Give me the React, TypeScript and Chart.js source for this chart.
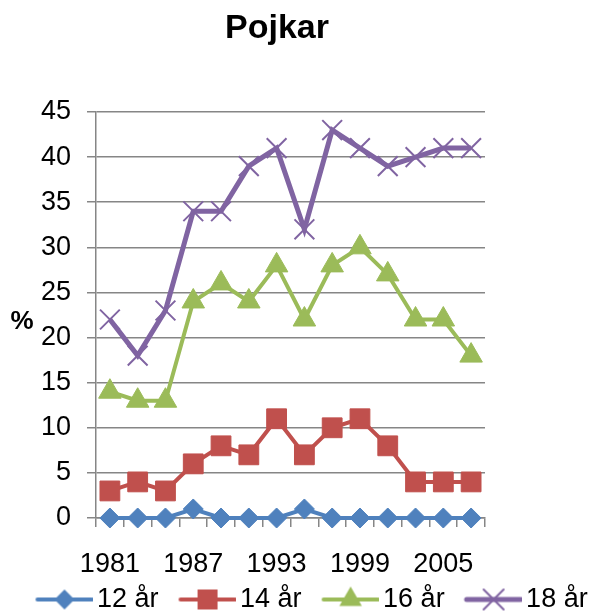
import { useEffect, useRef } from 'react';
import { Chart, registerables } from 'chart.js';

Chart.register(...registerables);

const titleText = 'Pojkar';
const axisTitle = '%';
const years = ['1981', '1983', '1985', '1987', '1989', '1991', '1993', '1995', '1997', '1999', '2001', '2003', '2005', '2007'];
const shownYears = ['1981', '1987', '1993', '1999', '2005'];
const seriesNames = ['12 år', '14 år', '16 år', '18 år'];
const age12 = [0, 0, 0, 1, 0, 0, 0, 1, 0, 0, 0, 0, 0, 0];
const age14 = [3, 4, 3, 6, 8, 7, 11, 7, 10, 11, 8, 4, 4, 4];
const age16 = [14, 13, 13, 24, 26, 24, 28, 22, 28, 30, 27, 22, 22, 18];
const age18 = [22, 18, 23, 34, 34, 39, 41, 32, 43, 41, 39, 40, 41, 41];

const FONT = "'Liberation Sans', Arial, sans-serif";
const BLUE = '#4F81BD';
const RED = '#C0504D';
const GREEN = '#9BBB59';
const PURPLE = '#8064A2';
const GRID = '#868686';

type Shape = 'diamond' | 'square' | 'triangle' | 'x';

function drawMarker(ctx: CanvasRenderingContext2D, shape: Shape, x: number, y: number, color: string) {
  ctx.fillStyle = color;
  ctx.strokeStyle = color;
  ctx.beginPath();
  if (shape === 'diamond') {
    const r = 10;
    ctx.moveTo(x - r, y); ctx.lineTo(x, y - r); ctx.lineTo(x + r, y); ctx.lineTo(x, y + r);
    ctx.closePath(); ctx.fill();
  } else if (shape === 'square') {
    const s = 10;
    ctx.rect(x - s, y - s, 2 * s, 2 * s); ctx.fill();
  } else if (shape === 'triangle') {
    const r = 13;
    ctx.moveTo(x, y - r);
    ctx.lineTo(x + r * 0.866, y + r * 0.5);
    ctx.lineTo(x - r * 0.866, y + r * 0.5);
    ctx.closePath(); ctx.fill();
  } else {
    const o = 10;
    ctx.lineWidth = 2;
    ctx.moveTo(x - o, y - o); ctx.lineTo(x + o, y + o);
    ctx.moveTo(x + o, y - o); ctx.lineTo(x - o, y + o);
    ctx.stroke();
  }
}

function makeLegendIcon(color: string, shape: Shape, lw: number) {
  const c = document.createElement('canvas');
  c.width = 82;
  c.height = 30;
  const ctx = c.getContext('2d') as CanvasRenderingContext2D;
  const mid = c.height / 2;
  ctx.strokeStyle = color;
  ctx.lineWidth = lw;
  ctx.lineCap = 'round';
  ctx.beginPath();
  ctx.moveTo(27, mid);
  ctx.lineTo(81, mid);
  ctx.stroke();
  drawMarker(ctx, shape, 54, mid, color);
  return c;
}

const textPlugin = {
  id: 'extraTexts',
  afterDraw(chart: any) {
    const ctx = chart.ctx as CanvasRenderingContext2D;
    ctx.save();
    ctx.fillStyle = '#000';
    ctx.textAlign = 'center';
    ctx.textBaseline = 'middle';
    ctx.font = `bold 34px ${FONT}`;
    ctx.fillText(titleText, 277, 29);
    ctx.font = `bold 26px ${FONT}`;
    ctx.fillText(axisTitle, 22, 322);
    ctx.restore();
  },
};

export default function App() {
  const ref = useRef<HTMLCanvasElement | null>(null);

  useEffect(() => {
    document.body.style.margin = '0';
    if (!ref.current) return;
    const icons = [
      makeLegendIcon(BLUE, 'diamond', 4),
      makeLegendIcon(RED, 'square', 4),
      makeLegendIcon(GREEN, 'triangle', 4),
      makeLegendIcon(PURPLE, 'x', 5),
    ];
    const chart = new Chart(ref.current, {
      type: 'line',
      data: {
        labels: years,
        datasets: [
          {
            label: seriesNames[0], data: age12, borderColor: BLUE, backgroundColor: BLUE, clip: false,
            borderWidth: 4, pointStyle: 'rectRot', pointRadius: 10, pointBorderWidth: 1,
            pointBackgroundColor: BLUE, pointBorderColor: BLUE,
          },
          {
            label: seriesNames[1], data: age14, borderColor: RED, backgroundColor: RED, clip: false,
            borderWidth: 4, pointStyle: 'rect', pointRadius: 14, pointBorderWidth: 1,
            pointBackgroundColor: RED, pointBorderColor: RED,
          },
          {
            label: seriesNames[2], data: age16, borderColor: GREEN, backgroundColor: GREEN, clip: false,
            borderWidth: 4, pointStyle: 'triangle', pointRadius: 13, pointBorderWidth: 1,
            pointBackgroundColor: GREEN, pointBorderColor: GREEN,
          },
          {
            label: seriesNames[3], data: age18, borderColor: PURPLE, backgroundColor: PURPLE, clip: false,
            borderWidth: 5, pointStyle: 'crossRot', pointRadius: 14, pointBorderWidth: 2,
            pointBackgroundColor: PURPLE, pointBorderColor: PURPLE,
          },
        ],
      },
      options: {
        animation: false,
        responsive: false,
        maintainAspectRatio: false,
        layout: { padding: { left: 15.5, right: 0, top: 112, bottom: 0 } },
        elements: { line: { tension: 0 } },
        scales: {
          x: {
            type: 'category',
            offset: true,
            grid: { display: true, drawOnChartArea: false, drawTicks: true, tickLength: 9, color: GRID, lineWidth: 1.5, offset: true },
            border: { display: true, color: GRID, width: 1.5 },
            ticks: {
              autoSkip: false,
              maxRotation: 0,
              minRotation: 0,
              padding: 21,
              color: '#000',
              font: { family: FONT, size: 27 },
              callback: (_v: any, i: number) => (shownYears.includes(years[i]) ? years[i] : ''),
            },
            afterFit: (s: any) => { s.height = 64; },
          },
          y: {
            min: 0,
            max: 45,
            grid: { color: GRID, lineWidth: 1.5, drawTicks: true, tickLength: 9 },
            border: { display: true, color: GRID, width: 1.5 },
            ticks: { stepSize: 5, padding: 16, color: '#000', font: { family: FONT, size: 27 } },
            afterFit: (s: any) => { s.width = 80.5; },
          },
          yR: {
            position: 'right',
            display: true,
            grid: { display: false },
            border: { display: false },
            ticks: { display: false },
            afterFit: (s: any) => { s.width = 110; },
          },
        },
        plugins: {
          title: { display: false },
          tooltip: { enabled: false },
          legend: {
            display: true,
            position: 'bottom',
            align: 'start',
            maxHeight: 32,
            labels: {
              usePointStyle: true,
              pointStyleWidth: 64,
              padding: 4,
              color: '#000',
              font: { family: FONT, size: 27 },
              generateLabels: (ch: any) => {
                const items = Chart.defaults.plugins.legend.labels.generateLabels(ch);
                return items.map((it: any, i: number) => ({ ...it, pointStyle: icons[i] }));
              },
            },
          },
        },
      },
      plugins: [textPlugin],
    } as any);
    return () => chart.destroy();
  }, []);

  return (
    <div style={{ width: 595, height: 614 }}>
      <canvas ref={ref} width={595} height={614} style={{ display: 'block', width: 595, height: 614 }} />
    </div>
  );
}
